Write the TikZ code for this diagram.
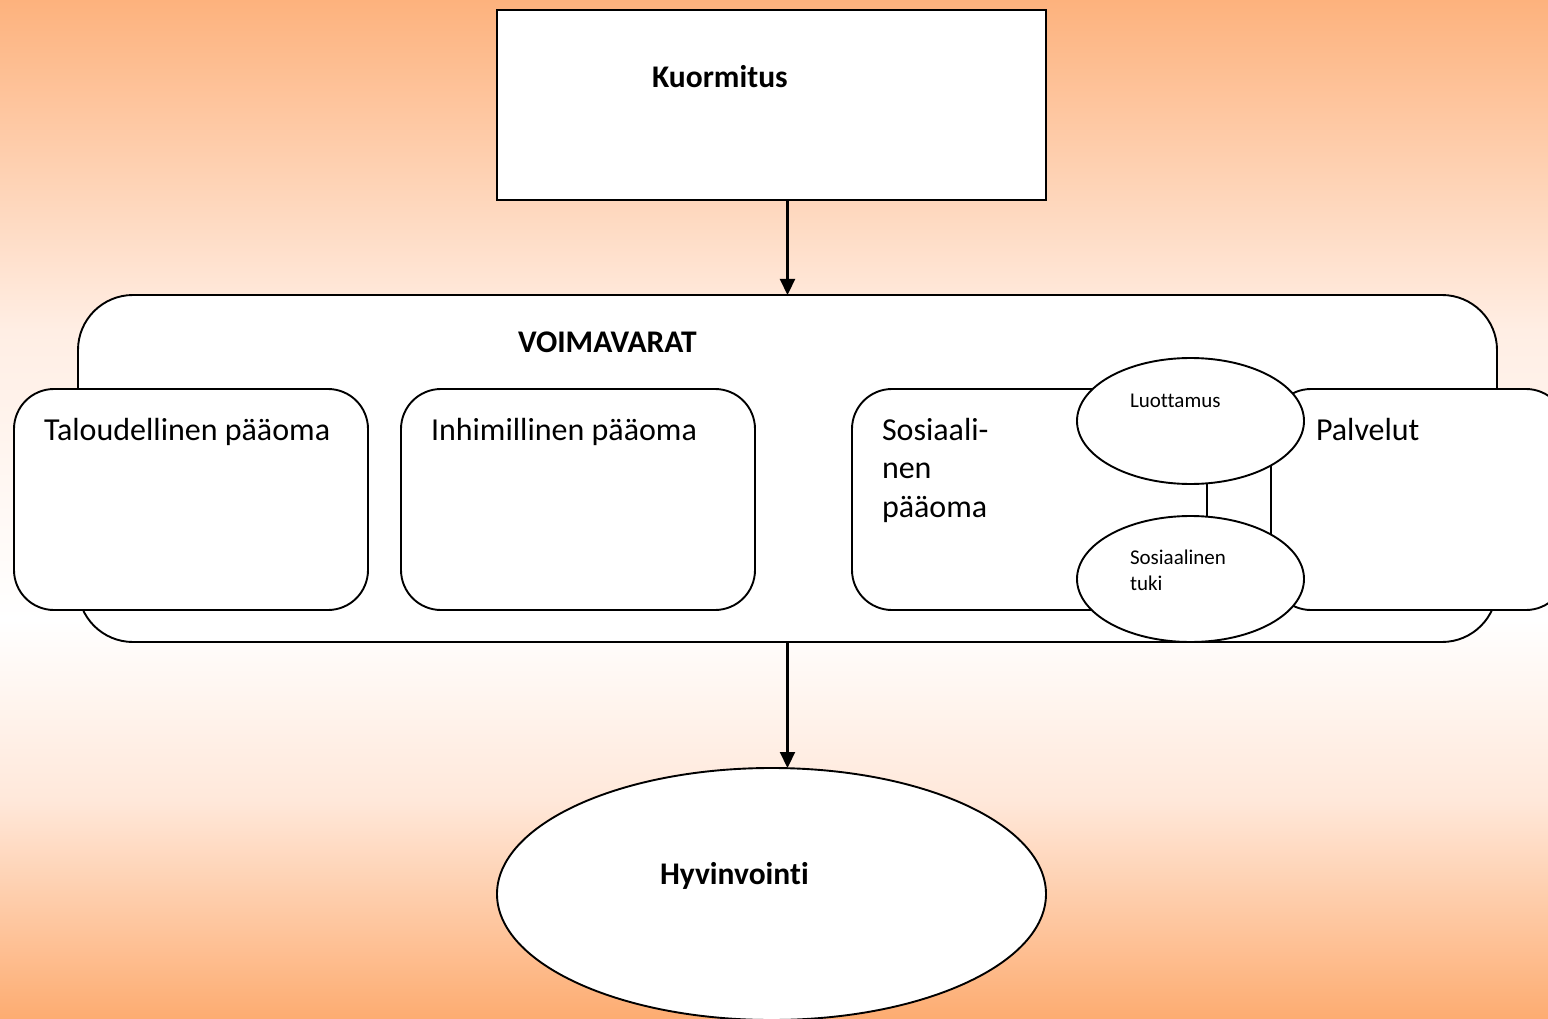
\documentclass[tikz,border=0pt]{standalone}
\usepackage{fontspec}
\setmainfont{Carlito}[Ligatures=CommonOff]
\usetikzlibrary{arrows.meta,shapes.geometric}
\definecolor{bgtop}{RGB}{253,178,125}
\definecolor{bgmidA}{RGB}{255,238,228}
\definecolor{bgmidB}{RGB}{255,232,218}
\definecolor{bgbot}{RGB}{253,172,113}
\pgfdeclareverticalshading{bgshade}{100bp}{color(0bp)=(bgbot); color(25bp)=(bgbot); color(35.75bp)=(bgmidB); color(44.6bp)=(white); color(58.8bp)=(bgmidA); color(75bp)=(bgtop); color(100bp)=(bgtop)}
\tikzset{
  ln/.style={draw=black, line width=1.9pt, fill=white, inner sep=0pt, outer sep=0pt},
  sqbox/.style={ln, rectangle},
  rbox/.style={ln, rectangle, rounded corners=40pt},
  oval/.style={ln, ellipse},
  arr/.style={line width=2.2pt, -{Triangle[width=15pt,length=16pt]}},
  txt/.style={anchor=base west, inner sep=0pt, outer sep=0pt, align=left},
  bigtxt/.style={txt, font=\fontsize{32}{38.5}\selectfont},
  boldtxt/.style={txt, font=\fontsize{31.5}{38}\selectfont\bfseries},
  smalltxt/.style={txt, font=\fontsize{21}{26}\selectfont}
}
\begin{document}
\begin{tikzpicture}[x=1pt,y=-1pt]
\fill[shading=bgshade] (0,0) rectangle (1548,1019);
\useasboundingbox (0,0) rectangle (1548,1019);
% shapes
\node[sqbox, minimum width=549pt, minimum height=190pt] (kuorm) at (771.5,105) {};
\node[rbox, rounded corners=55pt, minimum width=1419pt, minimum height=347pt] (voima) at (787.5,468.5) {};
\node[rbox, minimum width=354pt, minimum height=221pt] (tal) at (191,499.5) {};
\node[rbox, minimum width=354pt, minimum height=221pt] (inh) at (578,499.5) {};
\node[rbox, minimum width=355pt, minimum height=221pt] (sos) at (1029.5,499.5) {};
\node[rbox, minimum width=295pt, minimum height=221pt] (pal) at (1418.5,499.5) {};
\node[oval, minimum width=227pt, minimum height=126pt] (luot) at (1190.5,421) {};
\node[oval, minimum width=227pt, minimum height=126pt] (tuki) at (1190.5,579) {};
\node[oval, minimum width=549pt, minimum height=252pt] (hyv) at (771.5,894) {};
% connectors
\draw[arr] (kuorm.south -| voima.north) -- (voima.north);
\draw[arr] (voima.south) -- (voima.south |- hyv.north);
% texts
\node[boldtxt] (tkuorm) at (652,88) {Kuormitus};
\node[boldtxt] (tvoima) at (518,352) {VOIMAVARAT};
\node[bigtxt] (ttal) at (44,440) {Taloudellinen pääoma};
\node[bigtxt] (tinh) at (431,440) {Inhimillinen pääoma};
\node[bigtxt] (tsos) at (882,517) {Sosiaali-\\nen\\pääoma};
\node[bigtxt] (tpal) at (1316,440) {Palvelut};
\node[smalltxt] (tluot) at (1130,407) {Luottamus};
\node[smalltxt] (ttuki) at (1130,590) {Sosiaalinen\\tuki};
\node[boldtxt] (thyv) at (660,884) {Hyvinvointi};
\end{tikzpicture}
\end{document}
